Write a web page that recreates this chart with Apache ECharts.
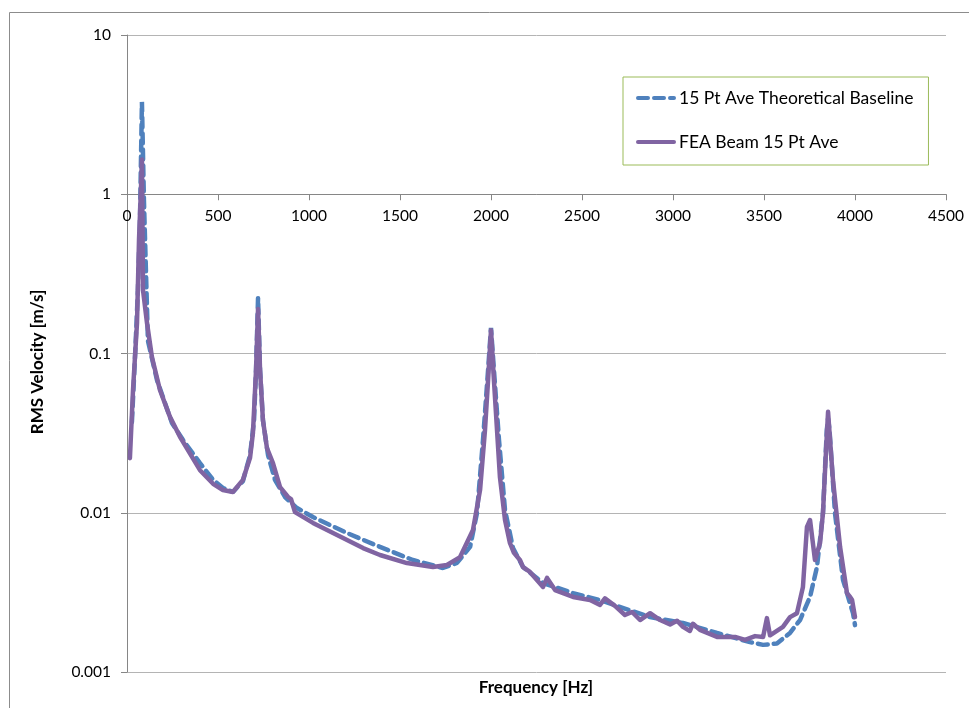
<!DOCTYPE html>
<html>
<head>
<meta charset="utf-8">
<script src="https://cdn.jsdelivr.net/npm/echarts@6/dist/echarts.min.js"></script>
<style>
  html, body { margin: 0; padding: 0; background: #fff; }
  #chart { width: 969px; height: 708px; }
</style>
</head>
<body>
<div id="chart"></div>
<script>
// Theoretical baseline (15 point average)
const freqBase = [27, 44, 60, 71, 82, 93, 115, 165, 247, 308, 401, 473, 527, 582, 637, 676, 698, 709, 720, 731, 747, 775, 813, 868, 934, 1022, 1209, 1390, 1571, 1736, 1813, 1885, 1923, 1956, 1984, 2000, 2016, 2044, 2077, 2121, 2176, 2286, 2451, 2599, 2874, 3055, 3242, 3423, 3495, 3571, 3643, 3698, 3753, 3791, 3824, 3845, 3852, 3860, 3890, 3934, 3989, 4000];
const velBase = [0.037, 0.095, 0.25, 0.66, 3.8, 0.92, 0.12, 0.068, 0.0366, 0.0286, 0.0205, 0.0161, 0.0143, 0.0135, 0.0158, 0.023, 0.038, 0.079, 0.223, 0.079, 0.038, 0.023, 0.0161, 0.01256, 0.0107, 0.0094, 0.00746, 0.0061, 0.00505, 0.0045, 0.00484, 0.0061, 0.00996, 0.0286, 0.079, 0.145, 0.079, 0.0286, 0.0104, 0.006, 0.00456, 0.00362, 0.00313, 0.00283, 0.00221, 0.00203, 0.00176, 0.00154, 0.00148, 0.00151, 0.00176, 0.00212, 0.00296, 0.00456, 0.00996, 0.0331, 0.039, 0.0331, 0.00996, 0.00379, 0.00234, 0.00197];

// FEA beam model (15 point average)
const freqFEA = [16, 33, 55, 66, 77, 82, 88, 110, 137, 181, 236, 291, 401, 473, 527, 582, 637, 676, 692, 709, 720, 731, 747, 769, 802, 841, 885, 901, 923, 1022, 1209, 1297, 1390, 1538, 1681, 1758, 1830, 1901, 1940, 1967, 1984, 2000, 2016, 2033, 2049, 2077, 2104, 2126, 2159, 2176, 2214, 2286, 2308, 2352, 2451, 2544, 2599, 2626, 2681, 2736, 2775, 2819, 2874, 2929, 2984, 3022, 3055, 3093, 3110, 3148, 3242, 3341, 3396, 3451, 3495, 3516, 3533, 3604, 3643, 3681, 3714, 3736, 3753, 3780, 3808, 3824, 3841, 3852, 3863, 3879, 3918, 3956, 3973, 3984, 4000];
const velFEA = [0.022, 0.059, 0.155, 0.52, 1.1, 1.65, 0.25, 0.155, 0.095, 0.059, 0.040, 0.030, 0.0185, 0.0152, 0.0139, 0.0135, 0.0161, 0.0221, 0.0317, 0.079, 0.19, 0.079, 0.038, 0.0255, 0.0205, 0.0145, 0.01256, 0.0122, 0.0101, 0.00863, 0.00675, 0.006, 0.00543, 0.00483, 0.00456, 0.0047, 0.00527, 0.0078, 0.0139, 0.0331, 0.068, 0.14, 0.068, 0.0331, 0.0168, 0.009, 0.00646, 0.0056, 0.00505, 0.00456, 0.00425, 0.00342, 0.0039, 0.00327, 0.00296, 0.00283, 0.00264, 0.0029, 0.0026, 0.00228, 0.00238, 0.00212, 0.00234, 0.00212, 0.00199, 0.0021, 0.00192, 0.00181, 0.00201, 0.00184, 0.00166, 0.00166, 0.00159, 0.00168, 0.00166, 0.00218, 0.0017, 0.00192, 0.00221, 0.00234, 0.00342, 0.00815, 0.009, 0.00505, 0.00646, 0.00996, 0.0248, 0.043, 0.0286, 0.0161, 0.0061, 0.00313, 0.00296, 0.00283, 0.00221];

// Axis tick labels
const yTickLabels = ['0.001', '0.01', '0.1', '1', '10'];
const xTickLabels = ['0', '500', '1000', '1500', '2000', '2500', '3000', '3500', '4000', '4500'];

const seriesNames = ['15 Pt Ave Theoretical Baseline', 'FEA Beam 15 Pt Ave'];
const axisTitles = { x: 'Frequency [Hz]', y: 'RMS Velocity [m/s]' };

const FONT = 'Lato, "Open Sans", sans-serif';
const chart = echarts.init(document.getElementById('chart'));

const gridTop = 35, gridBottom = 36, chartH = 708;
const plotH = chartH - gridTop - gridBottom;
// The frequency axis crosses the velocity axis at 1 m/s (3 decades above the bottom of 4)
const xAxisOffset = -plotH * 3 / 4;

chart.setOption({
  animation: false,
  backgroundColor: '#ffffff',
  graphic: [
    {
      type: 'rect', left: 7, top: 10, z: -10,
      shape: { width: 975, height: 720 },
      style: { fill: 'none', stroke: '#8c8c8c', lineWidth: 1 }
    },
    {
      type: 'text', x: 536, y: 688,
      style: { text: axisTitles.x, font: 'bold 17px ' + FONT, fill: '#000', align: 'center', verticalAlign: 'middle' }
    },
    {
      type: 'text', x: 38, y: 362, rotation: Math.PI / 2,
      style: { text: axisTitles.y, font: 'bold 17px ' + FONT, fill: '#000', align: 'center', verticalAlign: 'middle' }
    }
  ],
  grid: { left: 127, right: 23, top: gridTop, bottom: gridBottom, containLabel: false },
  legend: {
    orient: 'vertical',
    left: 623, top: 77,
    padding: [12, 15, 14, 13],
    itemGap: 26,
    itemWidth: 36, itemHeight: 14,
    borderColor: '#9bbb59', borderWidth: 1,
    itemStyle: { opacity: 0 },
    lineStyle: { width: 4 },
    textStyle: { fontFamily: FONT, fontSize: 17.5, color: '#000' },
    data: seriesNames
  },
  xAxis: {
    type: 'value', min: 0, max: 4500, interval: 500,
    offset: xAxisOffset,
    axisLine: { onZero: false, lineStyle: { color: '#868686', width: 1 } },
    axisTick: { show: true, inside: false, length: 6, lineStyle: { color: '#868686' } },
    axisLabel: {
      margin: 14, fontFamily: FONT, fontSize: 15.5, color: '#000',
      formatter: v => xTickLabels[Math.round(v / 500)]
    },
    splitLine: { show: false }
  },
  yAxis: {
    type: 'log', logBase: 10, min: 0.001, max: 10,
    axisLine: { show: true, lineStyle: { color: '#868686', width: 1 } },
    axisTick: { show: true, inside: false, length: 6, lineStyle: { color: '#868686' } },
    axisLabel: {
      margin: 16, fontFamily: FONT, fontSize: 15.5, color: '#000',
      formatter: v => yTickLabels[Math.round(Math.log10(v)) + 3]
    },
    splitLine: { show: true, lineStyle: { color: '#b4b4b4', width: 1 } },
    minorTick: { show: false }
  },
  series: [
    {
      name: seriesNames[0], type: 'line', symbol: 'none', z: 2,
      lineStyle: { color: '#4f81bd', width: 4.5, type: [10, 6], cap: 'round' },
      itemStyle: { color: '#4f81bd' },
      data: freqBase.map((f, i) => [f, velBase[i]])
    },
    {
      name: seriesNames[1], type: 'line', symbol: 'none', z: 3,
      lineStyle: { color: '#8064a2', width: 4.5, cap: 'round', join: 'round' },
      itemStyle: { color: '#8064a2' },
      data: freqFEA.map((f, i) => [f, velFEA[i]])
    }
  ]
});
</script>
</body>
</html>
